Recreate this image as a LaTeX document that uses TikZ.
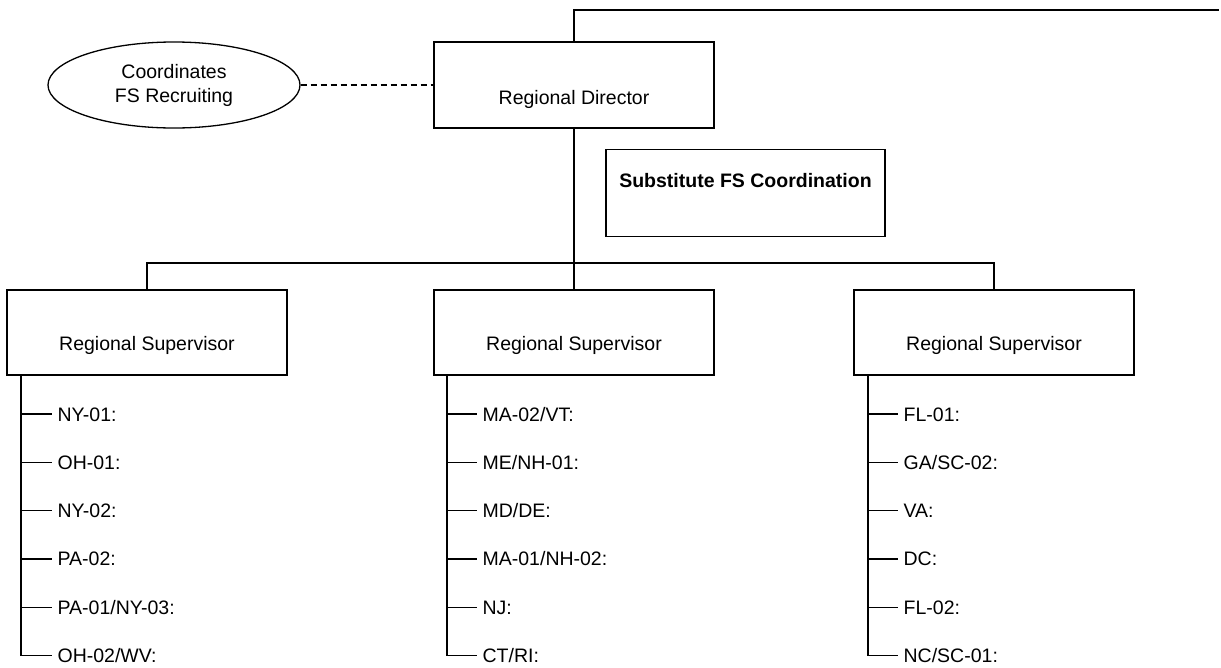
\documentclass[tikz,border=0pt]{standalone}
\usepackage{fontspec}
\setmainfont{Liberation Sans}
\usetikzlibrary{shapes.geometric}
\begin{document}
\begin{tikzpicture}[x=1pt,y=-1pt, line width=1.3pt,
  every node/.style={font=\fontsize{19.5pt}{24pt}\selectfont},
  box/.style={draw, rectangle, minimum width=280pt, inner xsep=0pt, inner ysep=24pt},
  dirbox/.style={box, text height=38pt, text depth=0pt},
  supbox/.style={box, text height=36pt, text depth=1pt},
  subbox/.style={box, minimum width=279pt, text height=14pt, text depth=25pt, font=\fontsize{19.5pt}{24pt}\selectfont\bfseries},
  oval/.style={draw, ellipse, minimum width=252pt, minimum height=86pt, inner sep=0pt, align=center},
  leaf/.style={anchor=west, inner xsep=5pt, inner ysep=0pt, text height=14pt, text depth=0pt},
  link/.style={draw},
  dashlink/.style={draw, dash pattern=on 6pt off 4pt}
]
\useasboundingbox (0,0) rectangle (1221,667);

% top level
\node[dirbox] (dir) at (574,85) {Regional Director};
\node[oval] (coord) at (174,85) {Coordinates\\FS Recruiting};
\node[subbox] (sub) at (745.5,193) {Substitute FS Coordination};
\coordinate (topend) at (1219,10);
\coordinate (bus) at (0,263);

% supervisors
\node[supbox] (supL) at (147,332.5) {Regional Supervisor};
\node[supbox] (supM) at (574,332.5) {Regional Supervisor};
\node[supbox] (supR) at (994,332.5) {Regional Supervisor};

% connectors
\draw[link] (dir.north) |- (topend);
\draw[dashlink] (coord.east) -- (dir.west);
\draw[link] (dir.south) -- (supM.north);
\draw[link] (supL.north) -- (supL.north |- bus) -- (supR.north |- bus) -- (supR.north);

% leaves
\coordinate (Ltr) at (21,375);
\coordinate (Mtr) at (447,375);
\coordinate (Rtr) at (868,375);

\foreach \t [count=\i] in {NY-01:, OH-01:, NY-02:, PA-02:, PA-01/NY-03:, OH-02/WV:}
  \node[leaf] (L\i) at (52,{414+48.3*(\i-1)}) {\t};
\foreach \t [count=\i] in {MA-02/VT:, ME/NH-01:, MD/DE:, MA-01/NH-02:, NJ:, CT/RI:}
  \node[leaf] (M\i) at (477,{414+48.3*(\i-1)}) {\t};
\foreach \t [count=\i] in {FL-01:, GA/SC-02:, VA:, DC:, FL-02:, NC/SC-01:}
  \node[leaf] (R\i) at (898,{414+48.3*(\i-1)}) {\t};

\draw[link] (Ltr) |- (L6.west);
\draw[link] (Mtr) |- (M6.west);
\draw[link] (Rtr) |- (R6.west);
\foreach \i in {1,...,5} {
  \draw[link] (L\i.west -| Ltr) -- (L\i.west);
  \draw[link] (M\i.west -| Mtr) -- (M\i.west);
  \draw[link] (R\i.west -| Rtr) -- (R\i.west);
}
\end{tikzpicture}
\end{document}
